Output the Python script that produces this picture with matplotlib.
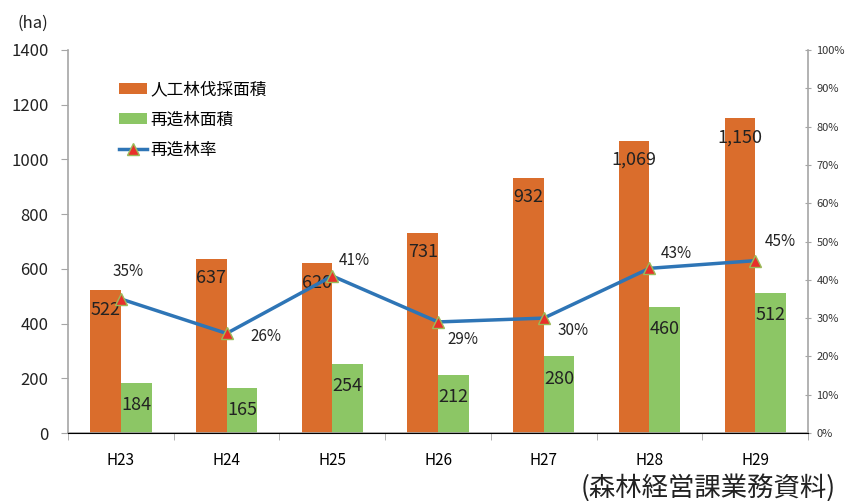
import numpy as np
import matplotlib
matplotlib.use("Agg")
import matplotlib.pyplot as plt
from matplotlib.ticker import FuncFormatter

plt.rcParams['font.family'] = ['Noto Sans CJK JP', 'DejaVu Sans']

# données
annees = ["H23", "H24", "H25", "H26", "H27", "H28", "H29"]
batsu = [522, 637, 620, 731, 932, 1069, 1150]      # 人工林伐採面積
zosei = [184, 165, 254, 212, 280, 460, 512]        # 再造林面積
taux = [35, 26, 41, 29, 30, 43, 45]                # 再造林率 (%)

c_orange = "#DA6D2C"
c_vert = "#8CC665"
c_bleu = "#2E75B6"
c_axe = "#A6A6A6"

fig = plt.figure(figsize=(8.53, 5.01), dpi=100)
ax = fig.add_axes([0.0797, 0.1357, 0.8676, 0.7645])
ax2 = ax.twinx()

x = np.arange(len(annees))
w = 0.29
ax.bar(x - w / 2, batsu, w, color=c_orange, label="人工林伐採面積", zorder=2)
ax.bar(x + w / 2, zosei, w, color=c_vert, label="再造林面積", zorder=2)

ax.set_xlim(-0.5, len(annees) - 0.5)
ax.set_ylim(0, 1400)
ax.set_yticks(range(0, 1401, 200))
ax.tick_params(axis='y', labelsize=12, length=5, pad=9, color=c_axe, colors="#222222")
ax.set_xticks(x)
ax.set_xticklabels(annees)
ax.set_xticks(np.arange(-0.5, len(annees)), minor=True)
ax.tick_params(axis='x', which='major', length=0, labelsize=11, pad=14)
ax.tick_params(axis='x', which='minor', length=5, color=c_axe)

for s in ["top", "right"]:
    ax.spines[s].set_visible(False)
ax2.spines["top"].set_visible(False)
ax2.spines["left"].set_visible(False)
for sp in [ax.spines["left"], ax.spines["bottom"], ax2.spines["right"]]:
    sp.set_color(c_axe)
    sp.set_linewidth(1.2)

# étiquettes des barres
for i in range(len(annees)):
    ax.annotate(f"{batsu[i]:,}", (x[i] - w / 2, batsu[i]), xytext=(0, -14), textcoords="offset points",
                ha="center", va="center", fontsize=13, color="#222222", zorder=4)
    ax.annotate(f"{zosei[i]:,}", (x[i] + w / 2, zosei[i]), xytext=(0, -16), textcoords="offset points",
                ha="center", va="center", fontsize=13, color="#222222", zorder=4)

# ligne du taux
ax2.plot(x, taux, color=c_bleu, lw=2.5, marker="^", markersize=8,
         markerfacecolor="#E8302A", markeredgecolor="#9BBB59", label="再造林率", zorder=3)
ax2.set_ylim(0, 100)
ax2.set_yticks(range(0, 101, 10))
ax2.yaxis.set_major_formatter(FuncFormatter(lambda v, p: f"{int(v)}%"))
ax2.tick_params(axis='y', labelsize=8, length=5, color=c_axe, colors="#333333", direction="inout")

decal = [(5, 20), (28, -2), (16, 11), (18, -13), (21, -9), (19, 11), (18, 14)]
for i in range(len(annees)):
    ax2.annotate(f"{taux[i]}%", (x[i], taux[i]), xytext=decal[i], textcoords="offset points",
                 ha="center", va="center", fontsize=11, color="#222222", zorder=5)

fig.text(0.02, 0.945, "(ha)", fontsize=12, color="#222222")
fig.text(0.98, 0.01, "(森林経営課業務資料)", fontsize=19, ha="right", color="#222222")

h1, l1 = ax.get_legend_handles_labels()
h2, l2 = ax2.get_legend_handles_labels()
ax.legend(h1 + h2, l1 + l2, loc="upper left", bbox_to_anchor=(0.048, 0.958),
          frameon=False, fontsize=12, handlelength=1.7, handleheight=0.6,
          labelspacing=0.8, handletextpad=0.2)

fig.savefig("out.png", dpi=100)
